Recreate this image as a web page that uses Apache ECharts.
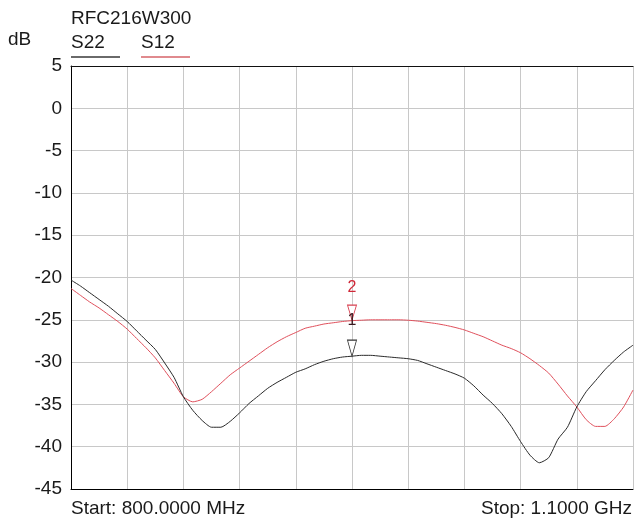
<!DOCTYPE html>
<html>
<head>
<meta charset="utf-8">
<script src="https://cdn.jsdelivr.net/npm/echarts@6/dist/echarts.min.js"></script>
<style>
html,body{margin:0;padding:0;background:#fff;}
#chart{width:634px;height:522px;}
</style>
</head>
<body>
<div id="chart"></div>
<script>
// Frequency points, MHz (800 MHz .. 1.1 GHz, 5 MHz step)
var freqs = [800,805,810,815,820,825,830,835,840,845,850,855,860,865,870,875,880,885,890,895,
  900,905,910,915,920,925,930,935,940,945,950,955,960,965,970,975,980,985,990,995,
  1000,1005,1010,1015,1020,1025,1030,1035,1040,1045,1050,1055,1060,1065,1070,1075,1080,1085,1090,1095,1100];
// S22 trace, dB
var s22 = [-20.3,-21.0,-21.8,-22.6,-23.4,-24.3,-25.2,-26.3,-27.4,-28.5,-30.1,-31.8,-34.1,-35.7,-36.9,-37.7,-37.7,-37.0,-36.0,-34.9,
  -34.0,-33.1,-32.4,-31.8,-31.2,-30.8,-30.3,-29.9,-29.6,-29.4,-29.3,-29.2,-29.2,-29.3,-29.4,-29.5,-29.6,-29.8,-30.2,-30.6,
  -31.0,-31.4,-31.9,-32.8,-33.9,-34.9,-36.1,-37.6,-39.4,-41.0,-41.9,-41.3,-39.1,-37.7,-35.3,-33.5,-32.2,-30.9,-29.8,-28.8,-28.0];
// S12 trace, dB
var s12 = [-21.3,-22.1,-22.9,-23.6,-24.4,-25.2,-26.1,-27.2,-28.3,-29.5,-31.0,-32.5,-34.1,-34.7,-34.4,-33.5,-32.5,-31.5,-30.7,-29.9,
  -29.1,-28.3,-27.6,-27.0,-26.5,-26.0,-25.75,-25.5,-25.35,-25.2,-25.1,-25.05,-25.0,-25.0,-25.0,-25.0,-25.05,-25.15,-25.3,-25.45,
  -25.65,-25.9,-26.2,-26.6,-27.0,-27.5,-28.0,-28.4,-28.9,-29.6,-30.4,-31.3,-32.6,-34.0,-35.3,-36.8,-37.6,-37.6,-36.7,-35.3,-33.3];
// Y tick labels
var yTicks = [5,0,-5,-10,-15,-20,-25,-30,-35,-40,-45];
// Markers
var markerFreq = '950';
var marker1Value = -29.3; // S22
var marker2Value = -25.1; // S12

var FONT = "'Liberation Sans', Arial, sans-serif";
var BLACK = '#2a2a2a';
var RED = '#e0505c';

var chart = echarts.init(document.getElementById('chart'), null, {renderer:'canvas'});
var cats = freqs.map(String);
var titleStyle = {fontFamily:FONT, fontSize:19, fontWeight:'normal', color:'#1a1a1a', lineHeight:20};

chart.setOption({
  animation: false,
  backgroundColor: '#fff',
  title: [
    {text:'RFC216W300', left:71, top:9, padding:0, textStyle:titleStyle},
    {text:'dB', left:8, top:30, padding:0, textStyle:titleStyle},
    {text:'S22', left:71, top:33, padding:0, textStyle:titleStyle},
    {text:'S12', left:141, top:33, padding:0, textStyle:titleStyle},
    {text:'Start: 800.0000 MHz', left:71, top:499, padding:0, textStyle:titleStyle},
    {text:'Stop: 1.1000 GHz', right:2, top:499, padding:0, textStyle:titleStyle}
  ],
  graphic: [
    {type:'line', shape:{x1:71, y1:57, x2:120, y2:57}, style:{stroke:'#6a6a6a', lineWidth:2}},
    {type:'line', shape:{x1:141, y1:57, x2:190, y2:57}, style:{stroke:'#e08a8e', lineWidth:2}}
  ],
  grid: {left:71, right:1, top:66, bottom:33, show:false},
  xAxis: [{
    type:'category', data:cats, boundaryGap:false, position:'bottom',
    axisLabel:{show:false}, axisTick:{show:false},
    axisLine:{show:true, onZero:false, lineStyle:{color:'#000', width:1}},
    splitLine:{show:true, interval:5, lineStyle:{color:'#c8c8c8', width:1}}
  },{
    type:'category', data:cats, boundaryGap:false, position:'top',
    axisLabel:{show:false}, axisTick:{show:false},
    axisLine:{show:true, onZero:false, lineStyle:{color:'#111', width:1}},
    splitLine:{show:false}
  }],
  yAxis: {
    type:'value', min:-45, max:5, interval:5,
    axisLabel:{color:'#1a1a1a', fontSize:19, fontFamily:FONT, margin:9,
      formatter:function(v){ return yTicks.indexOf(v) >= 0 ? String(v) : ''; }},
    axisTick:{show:false},
    axisLine:{show:true, onZero:false, lineStyle:{color:'#000', width:1}},
    splitLine:{show:true, lineStyle:{color:'#c8c8c8', width:1}}
  },
  series: [
    {
      name:'S12', type:'line', data:s12, symbol:'none', z:2, smooth:0.2,
      lineStyle:{color:RED, width:1}, itemStyle:{color:RED},
      markPoint:{
        silent:true,
        data:[{
          coord:[markerFreq, marker2Value], symbol:'triangle', symbolRotate:180,
          symbolSize:[9,15], symbolOffset:[0,-8],
          itemStyle:{color:'#fff', borderColor:'#d84050', borderWidth:1},
          label:{show:true, formatter:'2', position:'top', distance:9, color:'#d02838', fontSize:16, fontFamily:FONT}
        }]
      }
    },
    {
      name:'S22', type:'line', data:s22, symbol:'none', z:3, smooth:0.2,
      lineStyle:{color:BLACK, width:1}, itemStyle:{color:BLACK},
      markPoint:{
        silent:true,
        data:[{
          coord:[markerFreq, marker1Value], symbol:'triangle', symbolRotate:180,
          symbolSize:[9,16], symbolOffset:[0,-8],
          itemStyle:{color:'#fff', borderColor:'#333', borderWidth:1},
          label:{show:true, formatter:'1', position:'top', distance:11, color:'#3a1a20', fontSize:16, fontFamily:FONT}
        }]
      }
    }
  ]
});
</script>
</body>
</html>
